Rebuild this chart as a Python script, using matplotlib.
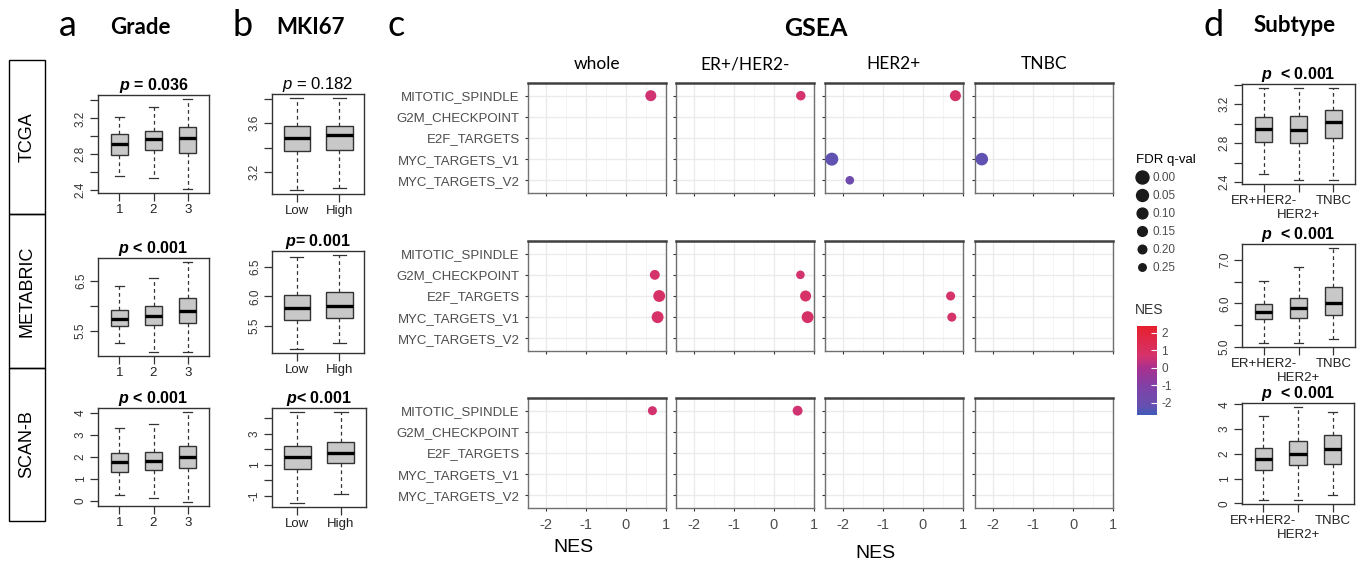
import numpy as np
import matplotlib.pyplot as plt
import matplotlib.cm as cm
from matplotlib.colors import LinearSegmentedColormap, Normalize
from matplotlib.patches import Rectangle
from matplotlib.lines import Line2D

plt.rcParams['font.family'] = ['Liberation Sans', 'DejaVu Sans']
plt.rcParams['mathtext.fontset'] = 'custom'
plt.rcParams['mathtext.rm'] = 'Liberation Sans'
plt.rcParams['mathtext.it'] = 'Liberation Sans:italic'
plt.rcParams['mathtext.bf'] = 'Liberation Sans:bold'
plt.rcParams['mathtext.bfit'] = 'Liberation Sans:italic:bold'

#---------------------------- data ----------------------------#
cohorts = ['TCGA', 'METABRIC', 'SCAN-B']
grade_labels = ['1', '2', '3']
mki_labels = ['Low', 'High']
sub_labels = ['ER+HER2-', 'HER2+', 'TNBC']

# box stats per group: whislo, q1, median, q3, whishi
grade_tcga = [[2.56, 2.79, 2.91, 3.03, 3.22], [2.54, 2.85, 2.97, 3.06, 3.33], [2.41, 2.82, 2.98, 3.10, 3.42]]
grade_metabric = [[5.26, 5.60, 5.74, 5.92, 6.40], [5.08, 5.62, 5.81, 6.00, 6.55], [5.08, 5.67, 5.90, 6.16, 6.88]]
grade_scanb = [[0.26, 1.32, 1.75, 2.15, 3.29], [0.14, 1.38, 1.82, 2.23, 3.47], [-0.07, 1.47, 2.00, 2.50, 4.05]]
mki_tcga = [[3.05, 3.37, 3.48, 3.58, 3.81], [3.07, 3.38, 3.50, 3.58, 3.81]]
mki_metabric = [[5.10, 5.60, 5.80, 6.02, 6.67], [5.21, 5.64, 5.84, 6.08, 6.71]]
mki_scanb = [[-1.50, 0.74, 1.48, 2.24, 4.44], [-0.89, 1.10, 1.79, 2.46, 4.44]]
sub_tcga = [[2.48, 2.81, 2.95, 3.07, 3.37], [2.42, 2.80, 2.94, 3.08, 3.37], [2.42, 2.85, 3.02, 3.14, 3.37]]
sub_metabric = [[5.08, 5.63, 5.80, 5.98, 6.52], [5.08, 5.66, 5.90, 6.12, 6.84], [5.18, 5.72, 6.00, 6.38, 7.28]]
sub_scanb = [[0.13, 1.36, 1.79, 2.23, 3.54], [0.16, 1.55, 2.00, 2.50, 3.90], [0.35, 1.61, 2.20, 2.77, 3.69]]

grade_p = [' = 0.036', ' < 0.001', ' < 0.001']
mki_p = [' = 0.182', '= 0.001', '< 0.001']
sub_p = ['  < 0.001', '  < 0.001', '  < 0.001']

grade_yt = [[2.4, 2.6, 2.8, 3.0, 3.2, 3.4], [5.5, 6.0, 6.5], [0, 1, 2, 3, 4]]
grade_ylab = [['2.4', '', '2.8', '', '3.2', ''], ['5.5', '', '6.5'], ['0', '1', '2', '3', '4']]
mki_yt = [[3.2, 3.4, 3.6, 3.8], [5.5, 6.0, 6.5], [-1, 0, 1, 2, 3, 4]]
mki_ylab = [['3.2', '', '3.6', ''], ['5.5', '6.0', '6.5'], ['-1', '', '1', '', '3', '']]
sub_yt = [[2.4, 2.6, 2.8, 3.0, 3.2, 3.4], [5.0, 5.5, 6.0, 6.5, 7.0], [0, 1, 2, 3, 4]]
sub_ylab = [['2.4', '', '2.8', '', '3.2', ''], ['5.0', '', '6.0', '', '7.0'], ['0', '1', '2', '3', '4']]

# GSEA hallmark results
pathways = ['MITOTIC_SPINDLE', 'G2M_CHECKPOINT', 'E2F_TARGETS', 'MYC_TARGETS_V1', 'MYC_TARGETS_V2']
subgroups = ['whole', 'ER+/HER2-', 'HER2+', 'TNBC']
tcga_group = ['whole', 'ER+/HER2-', 'HER2+', 'HER2+', 'HER2+', 'TNBC']
tcga_path = ['MITOTIC_SPINDLE', 'MITOTIC_SPINDLE', 'MITOTIC_SPINDLE', 'MYC_TARGETS_V1', 'MYC_TARGETS_V2', 'MYC_TARGETS_V1']
tcga_nes = [0.62, 0.67, 0.81, -2.28, -1.83, -2.28]
tcga_q = [0.09, 0.16, 0.09, 0.0, 0.2, 0.02]
metabric_group = ['whole', 'whole', 'whole', 'ER+/HER2-', 'ER+/HER2-', 'ER+/HER2-', 'HER2+', 'HER2+']
metabric_path = ['G2M_CHECKPOINT', 'E2F_TARGETS', 'MYC_TARGETS_V1', 'G2M_CHECKPOINT', 'E2F_TARGETS',
                 'MYC_TARGETS_V1', 'E2F_TARGETS', 'MYC_TARGETS_V1']
metabric_nes = [0.72, 0.83, 0.79, 0.66, 0.79, 0.84, 0.69, 0.72]
metabric_q = [0.14, 0.05, 0.05, 0.2, 0.09, 0.05, 0.18, 0.18]
scanb_group = ['whole', 'ER+/HER2-']
scanb_path = ['MITOTIC_SPINDLE', 'MITOTIC_SPINDLE']
scanb_nes = [0.66, 0.59]
scanb_q = [0.18, 0.14]

fdr_levels = [0.00, 0.05, 0.10, 0.15, 0.20, 0.25]
nes_ticks = [-2, -1, 0, 1, 2]

#---------------------------- layout helpers ----------------------------#
W, H = 1360, 563
fig = plt.figure(figsize=(W / 100, H / 100), dpi=100)


def px(l, t, r, b):
    return [l / W, 1 - b / H, (r - l) / W, (b - t) / H]


def q_size(q):
    d = 13.0 - 22.0 * q  # marker diameter in px
    return (d * 0.72) ** 2


cmap = LinearSegmentedColormap.from_list('nes', [
    (0.0, '#3F5CB8'), (0.5 / 5.1, '#6550B0'), (1.7 / 5.1, '#8240A6'),
    (2.7 / 5.1, '#A8308F'), (3.4 / 5.1, '#D5336C'), (1.0, '#E7202C')])
norm = Normalize(-2.7, 2.4)


def draw_box(rect, stats, labels, yt, ylab, ptxt, width=0.5, bold=True, stagger=False):
    ax = fig.add_axes(px(*rect))
    n = len(stats)
    bs = [dict(whislo=s[0], q1=s[1], med=s[2], q3=s[3], whishi=s[4], fliers=[]) for s in stats]
    ax.bxp(bs, positions=range(1, n + 1), widths=width, capwidths=width * 0.5,
           patch_artist=True, showfliers=False,
           boxprops=dict(facecolor='#C8C8C8', edgecolor='#333333', linewidth=1),
           medianprops=dict(color='black', linewidth=2.4),
           whiskerprops=dict(color='#333333', linewidth=0.9, linestyle=(0, (3, 2.5))),
           capprops=dict(color='#333333', linewidth=0.9))
    lo = min(s[0] for s in stats)
    hi = max(s[4] for s in stats)
    pad = 0.04 * (hi - lo)
    ax.set_ylim(lo - pad, hi + pad)
    ax.set_xlim(0.5 - 0.04 * n, n + 0.5 + 0.04 * n)
    ax.set_yticks(yt)
    ax.set_yticklabels(ylab, rotation=90, va='center', fontsize=8.5, color='#333333')
    ax.tick_params(length=6, width=0.9, color='#333333', pad=2)
    if stagger:
        # R staggers alternate labels onto a second line
        ax.set_xticks([1, 3])
        ax.set_xticklabels([labels[0], labels[2]], fontsize=9.5, color='#222222')
        ax.set_xticks([2], minor=True)
        ax.set_xticklabels([labels[1]], minor=True, fontsize=9.5, color='#222222')
        ax.tick_params(axis='x', which='minor', length=6, width=0.9, color='#333333', pad=12)
    else:
        ax.set_xticks(range(1, n + 1))
        ax.set_xticklabels(labels, fontsize=9.5, color='#222222')
    for sp in ax.spines.values():
        sp.set_color('#333333')
        sp.set_linewidth(1)
    if bold:
        ax.set_title(r'$\mathbfit{p}$' + ptxt, fontsize=11.5, fontweight='bold', pad=2)
    else:
        ax.set_title(r'$\mathit{p}$' + ptxt, fontsize=12, pad=2)
    return ax


#---------------------------- panel a: Grade ----------------------------#
rows_a = [(98, 95, 209, 193), (98, 258, 209, 356), (98, 408, 209, 506)]
for i, st in enumerate([grade_tcga, grade_metabric, grade_scanb]):
    draw_box(rows_a[i], st, grade_labels, grade_yt[i], grade_ylab[i], grade_p[i])

#---------------------------- panel b: MKI67 ----------------------------#
rows_b = [(272, 94, 364, 194), (272, 251, 364, 353), (272, 408, 366, 507)]
for i, st in enumerate([mki_tcga, mki_metabric, mki_scanb]):
    draw_box(rows_b[i], st, mki_labels, mki_yt[i], mki_ylab[i], mki_p[i], width=0.62, bold=(i > 0))

#---------------------------- panel d: Subtype ----------------------------#
rows_d = [(1242, 84, 1355, 184), (1242, 244, 1355, 347), (1242, 403, 1354, 504)]
for i, st in enumerate([sub_tcga, sub_metabric, sub_scanb]):
    draw_box(rows_d[i], st, sub_labels, sub_yt[i], sub_ylab[i], sub_p[i], stagger=True)

#---------------------------- row label boxes ----------------------------#
row_tops = [60, 214, 368]
row_bots = [214, 368, 521]
for i, name in enumerate(cohorts):
    l, r = 9, 45
    fig.add_artist(Rectangle((l / W, 1 - row_bots[i] / H), (r - l) / W, (row_bots[i] - row_tops[i]) / H,
                             transform=fig.transFigure, fill=False, ec='black', lw=1))
    fig.text((l + r) / 2 / W, 1 - (row_tops[i] + row_bots[i]) / 2 / H, name, rotation=90,
             ha='center', va='center', fontsize=13)

#---------------------------- panel c: GSEA ----------------------------#
col_left = [528, 676, 825, 975]
row_top = [83, 241, 398]
gsea = [(tcga_group, tcga_path, tcga_nes, tcga_q),
        (metabric_group, metabric_path, metabric_nes, metabric_q),
        (scanb_group, scanb_path, scanb_nes, scanb_q)]
ypos = {p: i + 1 for i, p in enumerate(pathways)}

for r in range(3):
    grp, pth, nes, qv = gsea[r]
    for c, sg in enumerate(subgroups):
        ax = fig.add_axes(px(col_left[c], row_top[r], col_left[c] + 138, row_top[r] + 110))
        ax.set_xlim(-2.45, 1.0)
        ax.set_ylim(5.6, 0.4)
        ax.set_xticks([-2, -1, 0, 1])
        ax.set_xticks([-1.5, -0.5, 0.5], minor=True)
        ax.set_yticks(range(1, 6))
        ax.grid(which='major', color='#EBEBEB', lw=1.0)
        ax.grid(which='minor', axis='x', color='#F2F2F2', lw=0.6)
        ax.set_axisbelow(True)
        for sp in ax.spines.values():
            sp.set_color('#707070')
            sp.set_linewidth(1)
        ax.spines['top'].set_color('#404040')
        ax.spines['top'].set_linewidth(1.8)
        ax.tick_params(which='both', length=2.5, width=0.8, color='#333333', labelcolor='#4D4D4D')
        ax.tick_params(which='minor', length=0)
        if c == 0:
            ax.set_yticklabels(pathways, fontsize=9.5)
        else:
            ax.set_yticklabels([])
        if r == 2:
            ax.set_xticklabels(['-2', '-1', '0', '1'], fontsize=10.5)
            ax.tick_params(axis='x', pad=5)
        else:
            ax.set_xticklabels([])
        if r == 0:
            ax.set_title(sg, fontsize=12.5, family='Lato', pad=10)
        idx = [k for k in range(len(grp)) if grp[k] == sg]
        if idx:
            ax.scatter([nes[k] for k in idx], [ypos[pth[k]] for k in idx],
                       s=[q_size(qv[k]) for k in idx], c=[nes[k] for k in idx],
                       cmap=cmap, norm=norm, edgecolors='none', clip_on=False, zorder=3)

fig.text(573 / W, 1 - 548 / H, 'NES', ha='center', va='center', fontsize=14)
fig.text(875 / W, 1 - 553 / H, 'NES', ha='center', va='center', fontsize=14)

# FDR size legend
handles = [Line2D([], [], marker='o', ls='', color='#1A1A1A', ms=np.sqrt(q_size(q))) for q in fdr_levels]
leg = fig.legend(handles, ['%.2f' % q for q in fdr_levels], title='FDR q-val',
                 loc='upper left', bbox_to_anchor=(1128 / W, 1 - 146 / H), frameon=False,
                 fontsize=8.5, title_fontsize=9.5, labelspacing=0.5, handlelength=1.0,
                 handletextpad=0.4, borderpad=0.2, alignment='left')
for t in leg.get_texts():
    t.set_color('#4D4D4D')

# NES colour bar
fig.text(1135 / W, 1 - 310 / H, 'NES', ha='left', va='center', fontsize=10, color='#333333')
cax = fig.add_axes(px(1137, 326, 1157, 415))
cb = fig.colorbar(cm.ScalarMappable(norm=norm, cmap=cmap), cax=cax, ticks=nes_ticks)
cb.ax.set_yticklabels([str(t) for t in nes_ticks])
cb.outline.set_visible(False)
cb.ax.tick_params(color='white', labelcolor='#4D4D4D', direction='in', length=4, labelsize=8.5, pad=3)

#---------------------------- headings ----------------------------#
fig.text(68 / W, 1 - 25 / H, 'a', ha='center', va='center', fontsize=26, family='Lato')
fig.text(140 / W, 1 - 28 / H, 'Grade', ha='center', va='center', fontsize=16, family='Lato', fontweight='bold')
fig.text(243 / W, 1 - 25 / H, 'b', ha='center', va='center', fontsize=26, family='Lato')
fig.text(310 / W, 1 - 28 / H, 'MKI67', ha='center', va='center', fontsize=16, family='Lato', fontweight='bold')
fig.text(396 / W, 1 - 25 / H, 'c', ha='center', va='center', fontsize=26, family='Lato')
fig.text(816 / W, 1 - 28 / H, 'GSEA', ha='center', va='center', fontsize=18, family='Lato', fontweight='bold')
fig.text(1214 / W, 1 - 25 / H, 'd', ha='center', va='center', fontsize=26, family='Lato')
fig.text(1295 / W, 1 - 25 / H, 'Subtype', ha='center', va='center', fontsize=16, family='Lato', fontweight='bold')

plt.savefig('out.png', dpi=100)
